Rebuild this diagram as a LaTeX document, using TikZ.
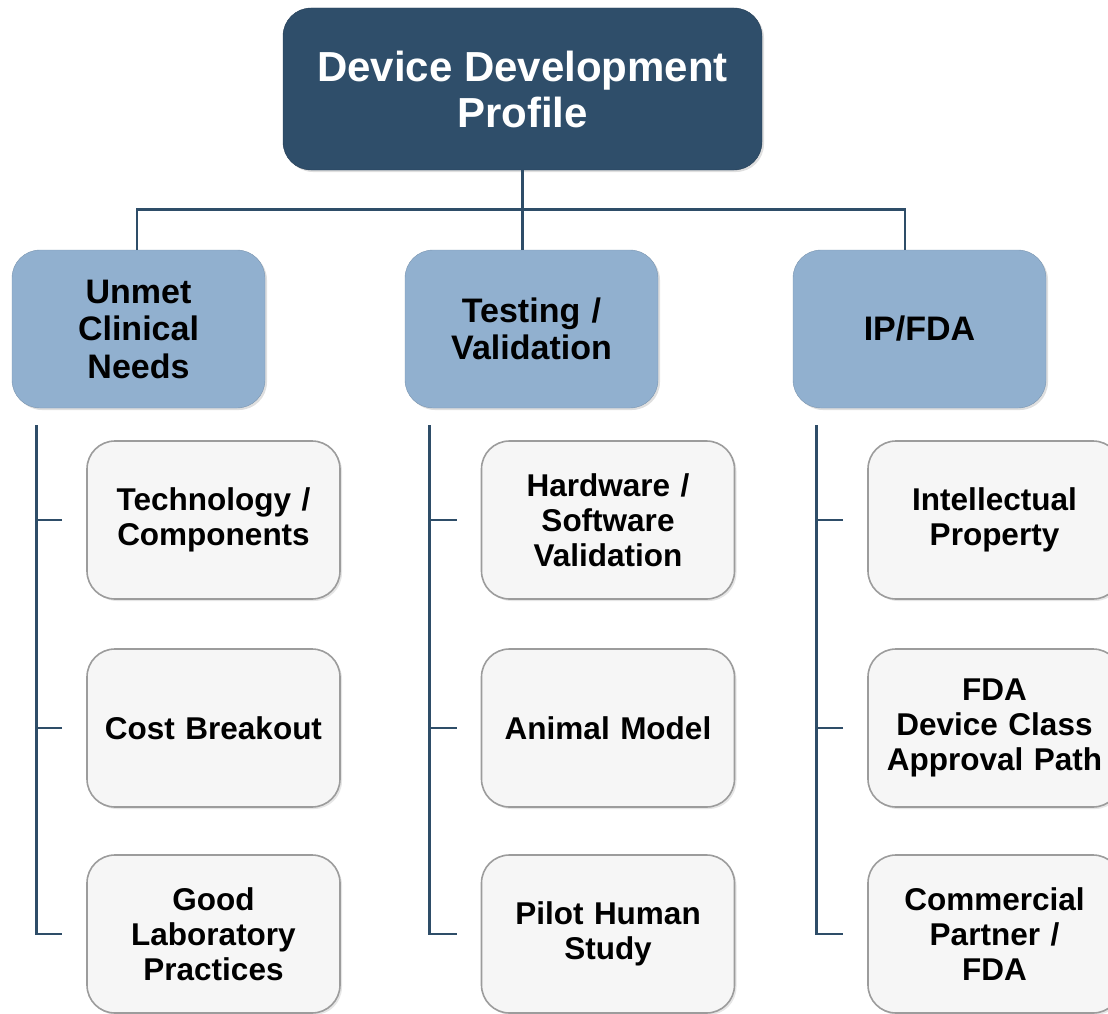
\documentclass[tikz,border=0pt]{standalone}
\usepackage{fontspec}
\setmainfont{Liberation Sans}
\usetikzlibrary{shadows}

\definecolor{topblue}{HTML}{2F4E6A}
\definecolor{midblue}{HTML}{91B0CF}
\definecolor{leafgray}{HTML}{F6F6F6}
\definecolor{leafedge}{HTML}{9C9C9C}
\definecolor{linkblue}{HTML}{2E4D68}

\tikzset{
	topbox/.style={draw=topblue!80!black, fill=topblue, rounded corners=28pt, text=white,
		minimum width=479pt, minimum height=162pt, align=center,
		font=\bfseries\fontsize{42}{46}\selectfont,
		drop shadow={opacity=0.25, shadow xshift=2pt, shadow yshift=-2pt}},
	midbox/.style={draw=midblue!85!black, fill=midblue, rounded corners=28pt,
		minimum width=253pt, minimum height=158pt, text width=240pt, align=center,
		font=\bfseries\fontsize{34}{37.5}\selectfont,
		drop shadow={opacity=0.25, shadow xshift=2pt, shadow yshift=-2pt}},
	leafbox/.style={draw=leafedge, line width=1.6pt, fill=leafgray, rounded corners=28pt,
		minimum width=253pt, minimum height=158pt, text width=240pt, align=center,
		font=\bfseries\fontsize{31.5}{35}\selectfont,
		drop shadow={opacity=0.2, shadow xshift=2pt, shadow yshift=-2pt}},
	link/.style={draw=linkblue, line width=2.8pt}
}

\begin{document}
\begin{tikzpicture}[x=1pt, y=-1pt]
	\useasboundingbox (0,0) rectangle (1108,1014);
	\clip (0,0) rectangle (1108,1014);

	% top of the tree
	\node[topbox] (ddp) at (522.5,89) {Device Development\\Profile};

	% second row
	\node[midbox] (ucn) at (138.5,329) {Unmet\\Clinical\\Needs};
	\node[midbox] (tval) at (531.5,329) {Testing /\\Validation};
	\node[midbox] (ipf) at (919.5,329) {IP/FDA};

	% leaves
	\node[leafbox] (tc) at (213.5,520) {Technology /\\Components};
	\node[leafbox] (cb) at (213.5,728) {Cost Breakout};
	\node[leafbox] (glp) at (213.5,934) {Good\\Laboratory\\Practices};

	\node[leafbox] (hsv) at (608,520) {Hardware /\\Software\\Validation};
	\node[leafbox] (am) at (608,728) {Animal Model};
	\node[leafbox] (phs) at (608,934) {Pilot Human\\Study};

	\node[leafbox] (ip) at (994.5,520) {Intellectual\\Property};
	\node[leafbox] (fda) at (994.5,728) {FDA\\Device Class\\Approval Path};
	\node[leafbox] (cp) at (994.5,934) {Commercial\\Partner /\\FDA};

	% connectors from the top
	\draw[link] (ddp.south) -- (ddp.south |- tval.north);
	\draw[link] ([xshift=0.5pt]ddp.south) ++(0,39) -| ([xshift=-1.5pt]ucn.north);
	\draw[link] ([xshift=0.5pt]ddp.south) ++(0,39) -| ([xshift=-14.5pt]ipf.north);

	% side bars to the leaves
	\draw[link] ([shift={(25,17)}]ucn.south west) |- ([xshift=-24pt]glp.west);
	\draw[link] ([xshift=-24pt]tc.west) -- ++(-26,0);
	\draw[link] ([xshift=-24pt]cb.west) -- ++(-26,0);

	\draw[link] ([shift={(25,17)}]tval.south west) |- ([xshift=-24pt]phs.west);
	\draw[link] ([xshift=-24pt]hsv.west) -- ++(-26,0);
	\draw[link] ([xshift=-24pt]am.west) -- ++(-26,0);

	\draw[link] ([shift={(24,17)}]ipf.south west) |- ([xshift=-24pt]cp.west);
	\draw[link] ([xshift=-24pt]ip.west) -- ++(-26,0);
	\draw[link] ([xshift=-24pt]fda.west) -- ++(-26,0);
\end{tikzpicture}
\end{document}
